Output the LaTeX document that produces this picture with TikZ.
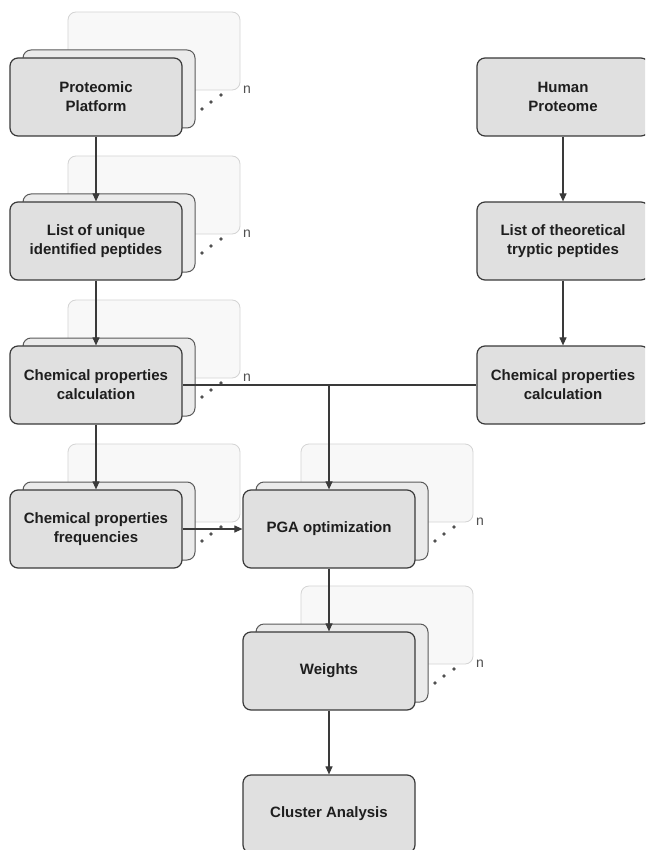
\documentclass[tikz,border=0pt]{standalone}
\usepackage{fontspec}
\setmainfont{Liberation Sans}
\usetikzlibrary{arrows.meta}
\definecolor{linec}{HTML}{3A3A3A}
\definecolor{frontfill}{HTML}{E0E0E0}
\definecolor{midfill}{HTML}{EBEBEB}
\definecolor{midline}{HTML}{5A5A5A}
\definecolor{backfill}{HTML}{F8F8F8}
\definecolor{backline}{HTML}{D4D4D4}
\definecolor{txt}{HTML}{1E1E1E}
\definecolor{nc}{HTML}{505050}
\tikzset{
  frontbox/.style={draw=linec, fill=frontfill, rounded corners=8pt, line width=1.2pt,
    minimum width=172pt, minimum height=78pt, inner sep=0pt, align=center,
    font=\fontsize{15}{19}\selectfont\bfseries, text=txt},
  midbox/.style={draw=midline, fill=midfill, rounded corners=8pt, line width=1pt,
    minimum width=172pt, minimum height=78pt, inner sep=0pt},
  backbox/.style={draw=backline, fill=backfill, rounded corners=8pt, line width=0.8pt,
    minimum width=172pt, minimum height=78pt, inner sep=0pt},
  nlabel/.style={font=\fontsize{14}{16}\selectfont, text=nc, inner sep=0pt},
  dotc/.style={fill=nc, draw=none},
  conn/.style={draw=linec, line width=1.1pt},
  arr/.style={conn, -{Triangle[length=8pt,width=7pt]}},
}
\newcommand{\mystack}[4]{%
  \node[backbox] (#1back) at (#2+58,#3-46) {};
  \node[midbox] (#1mid) at (#2+13,#3-8) {};
  \node[frontbox] (#1) at (#2,#3) {#4};
  \node[nlabel] (#1n) at (#2+151,#3-7) {n};
  \fill[dotc] (#2+106,#3+12) circle (1.8pt);
  \fill[dotc] (#2+115,#3+5) circle (1.8pt);
  \fill[dotc] (#2+125,#3-2) circle (1.8pt);
}
\begin{document}
\begin{tikzpicture}[x=1pt,y=-1pt]
\useasboundingbox (0,0) rectangle (645,850);
\clip (0,0) rectangle (645,850);
\fill[white] (0,0) rectangle (645,850);
\mystack{pp}{96}{97}{Proteomic\\Platform}
\mystack{lu}{96}{241}{List of unique\\identified peptides}
\mystack{cc}{96}{385}{Chemical properties\\calculation}
\mystack{cf}{96}{529}{Chemical properties\\frequencies}
\mystack{pga}{329}{529}{PGA optimization}
\mystack{wt}{329}{671}{Weights}
\node[frontbox] (ca) at (329,814) {Cluster Analysis};
\node[frontbox] (hp) at (563,97) {Human\\Proteome};
\node[frontbox] (lt) at (563,241) {List of theoretical\\tryptic peptides};
\node[frontbox] (cr) at (563,385) {Chemical properties\\calculation};
\coordinate (jn) at (329,385);
\draw[arr] (pp.south) -- (lu.north);
\draw[arr] (lu.south) -- (cc.north);
\draw[arr] (cc.south) -- (cf.north);
\draw[arr] (hp.south) -- (lt.north);
\draw[arr] (lt.south) -- (cr.north);
\draw[conn] (cr.west) -- (cc.east);
\draw[arr] (jn) -- (pga.north);
\draw[arr] (cf.east) -- (pga.west);
\draw[arr] (pga.south) -- (wt.north);
\draw[arr] (wt.south) -- (ca.north);
\end{tikzpicture}
\end{document}
